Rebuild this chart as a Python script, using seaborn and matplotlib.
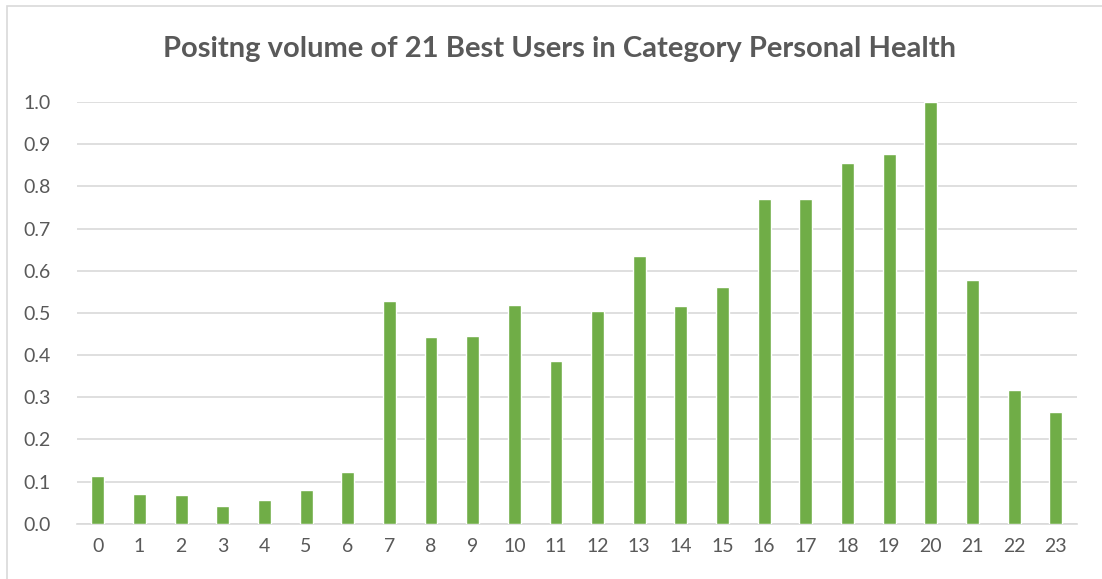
import matplotlib.pyplot as plt
import seaborn as sns
import pandas as pd
from matplotlib.patches import Rectangle

# valores
horas = list(range(24))
volume = [0.113, 0.070, 0.067, 0.042, 0.056, 0.081, 0.122, 0.528,
          0.443, 0.445, 0.518, 0.387, 0.504, 0.636, 0.516, 0.561,
          0.770, 0.770, 0.855, 0.876, 1.000, 0.578, 0.317, 0.266]
y_ticks = [0.0, 0.1, 0.2, 0.3, 0.4, 0.5, 0.6, 0.7, 0.8, 0.9, 1.0]
titulo = 'Positng volume of 21 Best Users in Category Personal Health'

df = pd.DataFrame({'hora': horas, 'volume': volume})

sns.set_style('white')
plt.rcParams['font.family'] = ['Lato', 'DejaVu Sans']

fig = plt.figure(figsize=(11.02, 5.79), dpi=100)
ax = fig.add_axes([0.0699, 0.0955, 0.907, 0.7283])

# borda do gráfico (estilo Excel)
fig.patches.append(Rectangle((0.0065, -0.05), 1.2, 1.04, transform=fig.transFigure,
                             fill=False, edgecolor='#d9d9d9', linewidth=1.2))

sns.barplot(x='hora', y='volume', data=df, color='#70ad47', width=0.31,
            saturation=1, ax=ax, zorder=3)

ax.set_ylim(0, 1.0)
ax.set_yticks(y_ticks)
ax.set_yticklabels([f'{v:.1f}' for v in y_ticks])
ax.yaxis.grid(True, color='#d9d9d9', linewidth=1.2, zorder=0)
ax.set_axisbelow(True)
for s in ['top', 'right', 'left']:
    ax.spines[s].set_visible(False)
ax.spines['bottom'].set_color('#d9d9d9')
ax.spines['bottom'].set_linewidth(1.2)
ax.tick_params(axis='both', length=0, labelsize=14, labelcolor='#595959')
ax.tick_params(axis='y', pad=19)
ax.tick_params(axis='x', pad=10)
ax.set_xlabel('')
ax.set_ylabel('')

fig.text(0.508, 0.915, titulo, ha='center', va='center', fontsize=21,
         fontweight='bold', color='#595959')

plt.savefig('out.png', dpi=100)
